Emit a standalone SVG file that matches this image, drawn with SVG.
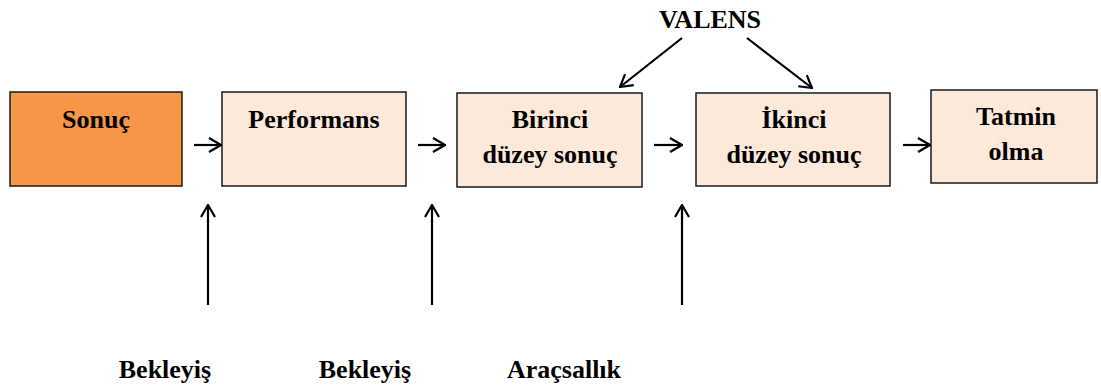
<svg xmlns="http://www.w3.org/2000/svg" width="1101" height="385" viewBox="0 0 1101 385">
<defs>
<marker id="arr" viewBox="0 0 14 16" refX="13" refY="8" markerWidth="14" markerHeight="16" markerUnits="userSpaceOnUse" orient="auto">
<path d="M1,1 L13,8 L1,15" fill="none" stroke="#000" stroke-width="2.2"/>
</marker>
</defs>
<style>
.box{fill:#FDE9D9;stroke:#1a1a1a;stroke-width:1.5}
.box.main{fill:#F79646}
text{font-family:"Liberation Serif","Times New Roman",serif;font-weight:bold;font-size:26px;fill:#000;text-anchor:middle}
.c{stroke:#000;stroke-width:2.2;fill:none;marker-end:url(#arr)}
</style>
<rect width="1101" height="385" fill="#fff"/>
<g id="sonuc"><rect class="box main" x="10" y="92" width="172" height="94"/><text x="96" y="128">Sonuç</text></g>
<g id="performans"><rect class="box" x="222" y="92" width="184" height="94"/><text x="314" y="128">Performans</text></g>
<g id="birinci"><rect class="box" x="457" y="93" width="185" height="94"/><text x="550" y="128">Birinci</text><text x="550" y="163">düzey sonuç</text></g>
<g id="ikinci"><rect class="box" x="696" y="93" width="194" height="93"/><text x="794" y="128">İkinci</text><text x="794" y="163">düzey sonuç</text></g>
<g id="tatmin"><rect class="box" x="931" y="90" width="166" height="93"/><text x="1016" y="125">Tatmin</text><text x="1016" y="160">olma</text></g>
<g id="valens"><text x="710" y="28">VALENS</text></g>
<g id="bekleyis1"><text x="165" y="378">Bekleyiş</text></g>
<g id="bekleyis2"><text x="365" y="378">Bekleyiş</text></g>
<g id="aracsallik"><text x="564" y="378">Araçsallık</text></g>
<g id="connectors">
<line class="c" x1="194" y1="145" x2="221" y2="145"/>
<line class="c" x1="418" y1="145" x2="445" y2="145"/>
<line class="c" x1="654" y1="145" x2="682" y2="145"/>
<line class="c" x1="903" y1="145" x2="930" y2="145"/>
<line class="c" x1="682" y1="38" x2="620" y2="87"/>
<line class="c" x1="747" y1="38" x2="812" y2="88"/>
<line class="c" x1="208" y1="305" x2="208" y2="205"/>
<line class="c" x1="432" y1="305" x2="432" y2="205"/>
<line class="c" x1="682" y1="305" x2="682" y2="205"/>
</g>
</svg>
